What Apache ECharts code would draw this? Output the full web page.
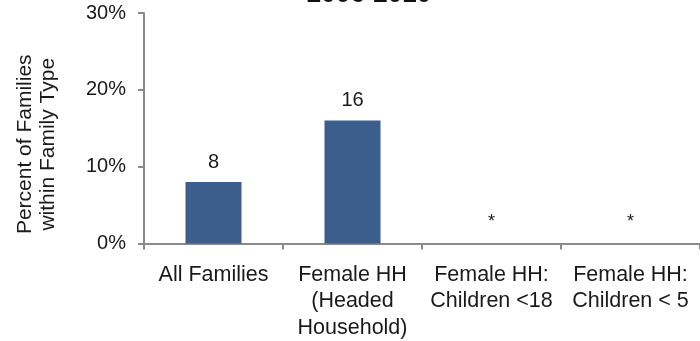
<!DOCTYPE html>
<html>
<head>
<meta charset="utf-8">
<script src="https://cdn.jsdelivr.net/npm/echarts@6/dist/echarts.min.js"></script>
<style>
  html, body { margin: 0; padding: 0; background: #fff; }
  #chart { width: 700px; height: 341px; }
</style>
</head>
<body>
<div id="chart"></div>
<script>
// Family types along the horizontal axis
const categories = ['All Families', 'Female HH\n(Headed\nHousehold)', 'Female HH:\nChildren <18', 'Female HH:\nChildren < 5'];
// Percent of families in each type (null = estimate suppressed)
const percentValues = [8, 16, null, null];
// Marker shown where an estimate is suppressed
const suppressedMark = '*';
// Value axis ticks
const yTicks = [0, 10, 20, 30];

const fontFamily = '"Liberation Sans", Arial, sans-serif';
const axisGrey = '#8a8a8a';

const barData = percentValues.map(v => v == null
  ? { value: 0, label: { formatter: suppressedMark, fontSize: 18, distance: 12 } }
  : v);

const chart = echarts.init(document.getElementById('chart'), null, { renderer: 'canvas' });
chart.setOption({
  animation: false,
  backgroundColor: '#ffffff',
  textStyle: { fontFamily },
  graphic: [{
    type: 'text',
    x: 369,
    y: -5,
    style: {
      text: '2006-2010',
      font: 'bold 26px ' + fontFamily,
      fill: '#111',
      textAlign: 'center',
      textVerticalAlign: 'middle'
    }
  }],
  grid: { left: 144, top: 13, width: 568, height: 233, containLabel: false },
  xAxis: {
    type: 'category',
    data: categories,
    axisLine: { lineStyle: { color: axisGrey, width: 2 } },
    axisTick: { show: true, length: 6, lineStyle: { color: axisGrey, width: 2 } },
    axisLabel: {
      color: '#1a1a1a', fontSize: 21.5, lineHeight: 26.5, margin: 18,
      interval: 0, fontFamily
    }
  },
  yAxis: {
    type: 'value',
    min: yTicks[0],
    max: yTicks[yTicks.length - 1],
    interval: yTicks[1] - yTicks[0],
    name: 'Percent of Families\nwithin Family Type',
    nameLocation: 'middle',
    nameRotate: 90,
    nameGap: 84,
    nameTextStyle: { color: '#1a1a1a', fontSize: 21, lineHeight: 23, fontFamily, padding: [0, 32, 0, 0] },
    splitLine: { show: false },
    axisLine: { show: true, lineStyle: { color: axisGrey, width: 2 } },
    axisTick: { show: true, length: 6, lineStyle: { color: axisGrey, width: 2 } },
    axisLabel: { color: '#1a1a1a', fontSize: 20, margin: 18, formatter: '{value}%', fontFamily, padding: [4, 0, 0, 0] }
  },
  series: [{
    type: 'bar',
    data: barData,
    barWidth: 56,
    itemStyle: { color: '#3b5e8c' },
    label: {
      show: true, position: 'top', distance: 10,
      color: '#1a1a1a', fontSize: 20, fontFamily
    }
  }]
});
</script>
</body>
</html>
